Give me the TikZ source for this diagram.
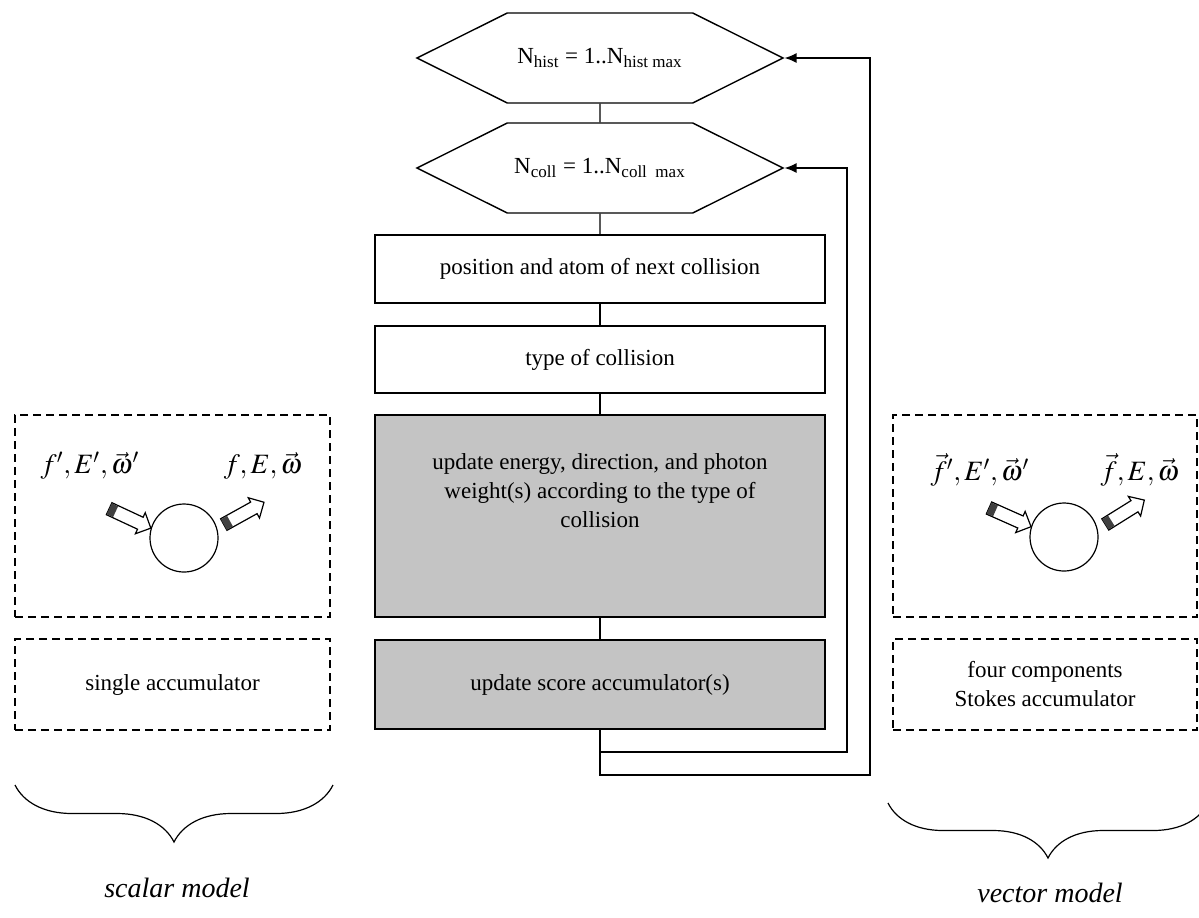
\documentclass[tikz,border=0pt]{standalone}
\usepackage{mathptmx}
\usepackage{fontspec}
\setmainfont{Liberation Serif}
\usetikzlibrary{shapes.symbols,shapes.arrows,decorations.pathreplacing,arrows.meta}

\definecolor{boxgray}{RGB}{196,196,196}
\newcommand{\boxfont}{\fontsize{11.5}{14.5}\selectfont}

\tikzset{
  loopbox/.style={signal, signal to=east and west, signal pointer angle=53,
    draw, minimum width=183pt, minimum height=45pt, inner sep=0pt, font=\boxfont},
  stepbox/.style={draw, minimum width=225pt, align=center, font=\boxfont},
  dashbox/.style={draw, dash pattern=on 4pt off 2.5pt, line width=0.6pt, align=center, font=\boxfont},
  atom/.style={circle, draw, minimum size=34pt, inner sep=0pt, line width=0.6pt},
  blockarrow/.style={single arrow, draw, fill=white, line width=0.6pt,
    minimum height=23pt, minimum width=11pt, inner sep=3pt, single arrow head extend=2.5pt},
  tailcap/.style={fill=black!75, minimum width=3.5pt, minimum height=6pt, inner sep=0pt},
  mathlabel/.style={font=\fontsize{14}{16}\selectfont},
  modellabel/.style={font=\fontsize{14}{16}\selectfont\itshape},
  back/.style={-{Latex[length=6pt,width=5pt]}}
}

\begin{document}
\begin{tikzpicture}[x=0.5pt, y=-0.5pt, line width=0.7pt]
  \useasboundingbox (0,0) rectangle (1199,917);

  % main loop
  \node[loopbox] (hist) at (600,58) {N\textsubscript{hist} = 1..N\textsubscript{hist max}};
  \node[loopbox] (coll) at (600,168) {N\textsubscript{coll} = 1..N\textsubscript{coll\ \ max}};
  \node[stepbox, minimum height=34pt] (pos) at (600,269) {position and atom of next collision};
  \node[stepbox, minimum height=33.5pt] (kind) at (600,359.5) {type of collision};
  \node[stepbox, fill=boxgray, minimum height=101pt] (update) at (600,516) {};
  \node[align=center, font=\boxfont] (updtext) at (600,491)
    {update energy, direction, and photon\\ weight(s) according to the type of\\ collision};
  \node[stepbox, fill=boxgray, minimum height=44.5pt] (score) at (600,684.5) {update score accumulator(s)};

  \draw (hist) -- (coll);
  \draw (coll) -- (pos);
  \draw (pos) -- (kind);
  \draw (kind) -- (update);
  \draw (update) -- (score);

  \coordinate (inner) at (847,752);
  \coordinate (outer) at (870,775);
  \draw[back] (score.south) |- (inner) |- (coll.east);
  \draw[back] (score.south) |- (outer) |- (hist.east);

  % scalar model
  \node[dashbox, minimum width=157.5pt, minimum height=101pt] (sframe) at (172.5,516) {};
  \node[dashbox, minimum width=157.5pt, minimum height=45.5pt] (sacc) at (172.5,684.5) {single accumulator};
  \node[atom] (satom) at (184,538) {};
  \node[blockarrow, rotate=-25] (sin) at (127,517) {};
  \node[tailcap, rotate=-25, anchor=west] at (sin.tail) {};
  \node[blockarrow, rotate=29] (sout) at (241,515) {};
  \node[tailcap, rotate=29, anchor=west] at (sout.tail) {};
  \node[mathlabel] (sinlab) at (90,466) {$f',E',\vec{\omega}'$};
  \node[mathlabel] (soutlab) at (263,466) {$f,E,\vec{\omega}$};

  % vector model
  \node[dashbox, minimum width=152pt, minimum height=101pt] (vframe) at (1045,516) {};
  \node[dashbox, minimum width=152pt, minimum height=45.5pt] (vacc) at (1045,684.5)
    {four components\\ Stokes accumulator};
  \node[atom] (vatom) at (1064,537) {};
  \node[blockarrow, rotate=-24] (vin) at (1007,516) {};
  \node[tailcap, rotate=-24, anchor=west] at (vin.tail) {};
  \node[blockarrow, rotate=32] (vout) at (1122,514) {};
  \node[tailcap, rotate=32, anchor=west] at (vout.tail) {};
  \node[mathlabel] (vinlab) at (980,470) {$\vec{f}',E',\vec{\omega}'$};
  \node[mathlabel] (voutlab) at (1140,470) {$\vec{f},E,\vec{\omega}$};

  % braces
  \draw[line width=0.6pt, decorate, decoration={brace, mirror, amplitude=28.5pt}] (15,785) -- (333,785);
  \node[modellabel] (slab) at (177,888) {scalar model};
  \draw[line width=0.6pt, decorate, decoration={brace, mirror, amplitude=27.5pt}] (888,803) -- (1208,803);
  \node[modellabel] (vlab) at (1050,893) {vector model};
\end{tikzpicture}
\end{document}
